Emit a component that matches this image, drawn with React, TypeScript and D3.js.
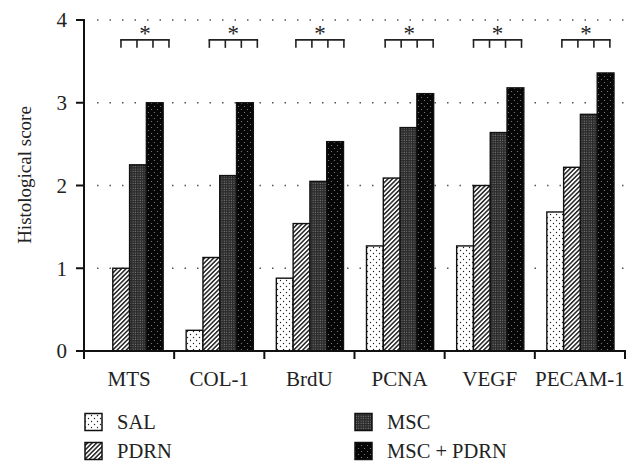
import React from "react";
import * as d3 from "d3";

const categories = ["MTS", "COL-1", "BrdU", "PCNA", "VEGF", "PECAM-1"];
const seriesNames = ["SAL", "PDRN", "MSC", "MSC + PDRN"];
const salValues = [0, 0.25, 0.88, 1.27, 1.27, 1.68];
const pdrnValues = [1.0, 1.13, 1.54, 2.09, 2.0, 2.22];
const mscValues = [2.25, 2.12, 2.05, 2.7, 2.64, 2.86];
const mscPdrnValues = [3.0, 3.0, 2.53, 3.11, 3.18, 3.36];
const yTicks = [0, 1, 2, 3, 4];
const sigLabels = ["*", "*", "*", "*", "*", "*"];
// bracket start as fraction of the category band
const bracketStart = [0.41, 0.39, 0.35, 0.34, 0.32, 0.3];

const series = [salValues, pdrnValues, mscValues, mscPdrnValues];
const fills = ["url(#pSal)", "url(#pPdrn)", "url(#pMsc)", "url(#pMscPdrn)"];

const W = 640;
const H = 473;
const m = { left: 84, right: 15, top: 20, bottom: 122 };

export default function App() {
  const x = d3
    .scaleBand<string>()
    .domain(categories)
    .range([m.left, W - m.right])
    .paddingInner(0)
    .paddingOuter(0);
  const y = d3.scaleLinear().domain([0, 4]).range([H - m.bottom, m.top]);
  const bw = x.bandwidth();
  const inner = d3
    .scaleBand<number>()
    .domain(d3.range(seriesNames.length))
    .range([12, bw - 11]);
  const font = "'Liberation Serif', 'DejaVu Serif', serif";
  const y0 = y(0);

  return (
    <svg
      width={W}
      height={H}
      style={{ position: "absolute", left: 0, top: 0, background: "#fff" }}
      fontFamily={font}
    >
      <defs>
        <pattern id="pSal" width="6" height="6" patternUnits="userSpaceOnUse">
          <rect width="6" height="6" fill="#fff" />
          <circle cx="1.5" cy="1.5" r="0.7" fill="#222" />
          <circle cx="4.5" cy="4.5" r="0.7" fill="#222" />
        </pattern>
        <pattern id="pPdrn" width="3.2" height="3.2" patternUnits="userSpaceOnUse" patternTransform="rotate(45)">
          <rect width="3.2" height="3.2" fill="#fff" />
          <rect width="1.5" height="3.2" fill="#222" />
        </pattern>
        <pattern id="pMsc" width="2.4" height="2.4" patternUnits="userSpaceOnUse">
          <rect width="2.4" height="2.4" fill="#2a2a2a" />
          <rect x="0.6" y="0.6" width="0.9" height="0.9" fill="#9a9a9a" />
        </pattern>
        <pattern id="pMscPdrn" width="6" height="6" patternUnits="userSpaceOnUse">
          <rect width="6" height="6" fill="#060606" />
          <circle cx="1.5" cy="1.5" r="0.6" fill="#888" />
          <circle cx="4.5" cy="4.5" r="0.6" fill="#888" />
        </pattern>
      </defs>

      {/* gridlines */}
      {yTicks
        .filter((t) => t > 0)
        .map((t) => (
          <line
            key={"g" + t}
            x1={m.left + 13}
            x2={W - m.right}
            y1={y(t)}
            y2={y(t)}
            stroke="#555"
            strokeWidth={1.6}
            strokeDasharray="1.5 11"
            strokeLinecap="butt"
          />
        ))}

      {/* bars */}
      {categories.map((c, ci) => (
        <g key={c}>
          {series.map((vals, si) =>
            vals[ci] > 0 ? (
              <rect
                key={si}
                x={(x(c) as number) + (inner(si) as number)}
                y={y(vals[ci])}
                width={inner.bandwidth()}
                height={y0 - y(vals[ci])}
                fill={fills[si]}
                stroke="#111"
                strokeWidth={1.4}
              />
            ) : null
          )}
        </g>
      ))}

      {/* significance brackets */}
      {categories.map((c, ci) => {
        const x1 = (x(c) as number) + bracketStart[ci] * bw;
        const step = 16;
        const x2 = x1 + step * 3;
        const by = y(3.76);
        return (
          <g key={"b" + c} stroke="#222" strokeWidth={1.6} fill="none">
            <line x1={x1 - 0.8} x2={x2 + 0.8} y1={by} y2={by} />
            {d3.range(4).map((k) => (
              <line key={k} x1={x1 + k * step} x2={x1 + k * step} y1={by} y2={by + 8} />
            ))}
            <text
              x={(x1 + x2) / 2}
              y={by + 1}
              textAnchor="middle"
              fontSize={23}
              fill="#222"
              stroke="none"
            >
              {sigLabels[ci]}
            </text>
          </g>
        );
      })}

      {/* y axis */}
      <line x1={m.left} x2={m.left} y1={y(4) - 1} y2={y0 + 1} stroke="#111" strokeWidth={2} />
      {yTicks.map((t) => (
        <g key={"yt" + t}>
          <line x1={m.left - 8} x2={m.left} y1={y(t)} y2={y(t)} stroke="#111" strokeWidth={2} />
          <text x={m.left - 17} y={y(t)} dy="0.35em" textAnchor="end" fontSize={21} fill="#222">
            {t}
          </text>
        </g>
      ))}
      <text
        transform={`translate(31,175) rotate(-90)`}
        textAnchor="middle"
        fontSize={19}
        fill="#222"
      >
        Histological score
      </text>

      {/* x axis */}
      <line x1={m.left - 1} x2={W - m.right + 1} y1={y0} y2={y0} stroke="#111" strokeWidth={2} />
      {[...categories.map((c) => x(c) as number), W - m.right].map((px, i) => (
        <line key={"xt" + i} x1={px} x2={px} y1={y0} y2={y0 + 8} stroke="#111" strokeWidth={2} />
      ))}
      {categories.map((c) => (
        <text
          key={"xl" + c}
          x={(x(c) as number) + bw / 2}
          y={y0 + 35}
          textAnchor="middle"
          fontSize={21}
          fill="#222"
        >
          {c}
        </text>
      ))}

      {/* legend */}
      {seriesNames.map((s, i) => {
        const lx = i < 2 ? 85 : 355;
        const ly = i % 2 === 0 ? 422 : 451;
        return (
          <g key={"lg" + s}>
            <rect x={lx} y={ly - 8.5} width={17} height={17} fill={fills[i]} stroke="#111" strokeWidth={1.5} />
            <text x={lx + 32} y={ly} dy="0.35em" fontSize={20.5} fill="#222">
              {s}
            </text>
          </g>
        );
      })}
    </svg>
  );
}
